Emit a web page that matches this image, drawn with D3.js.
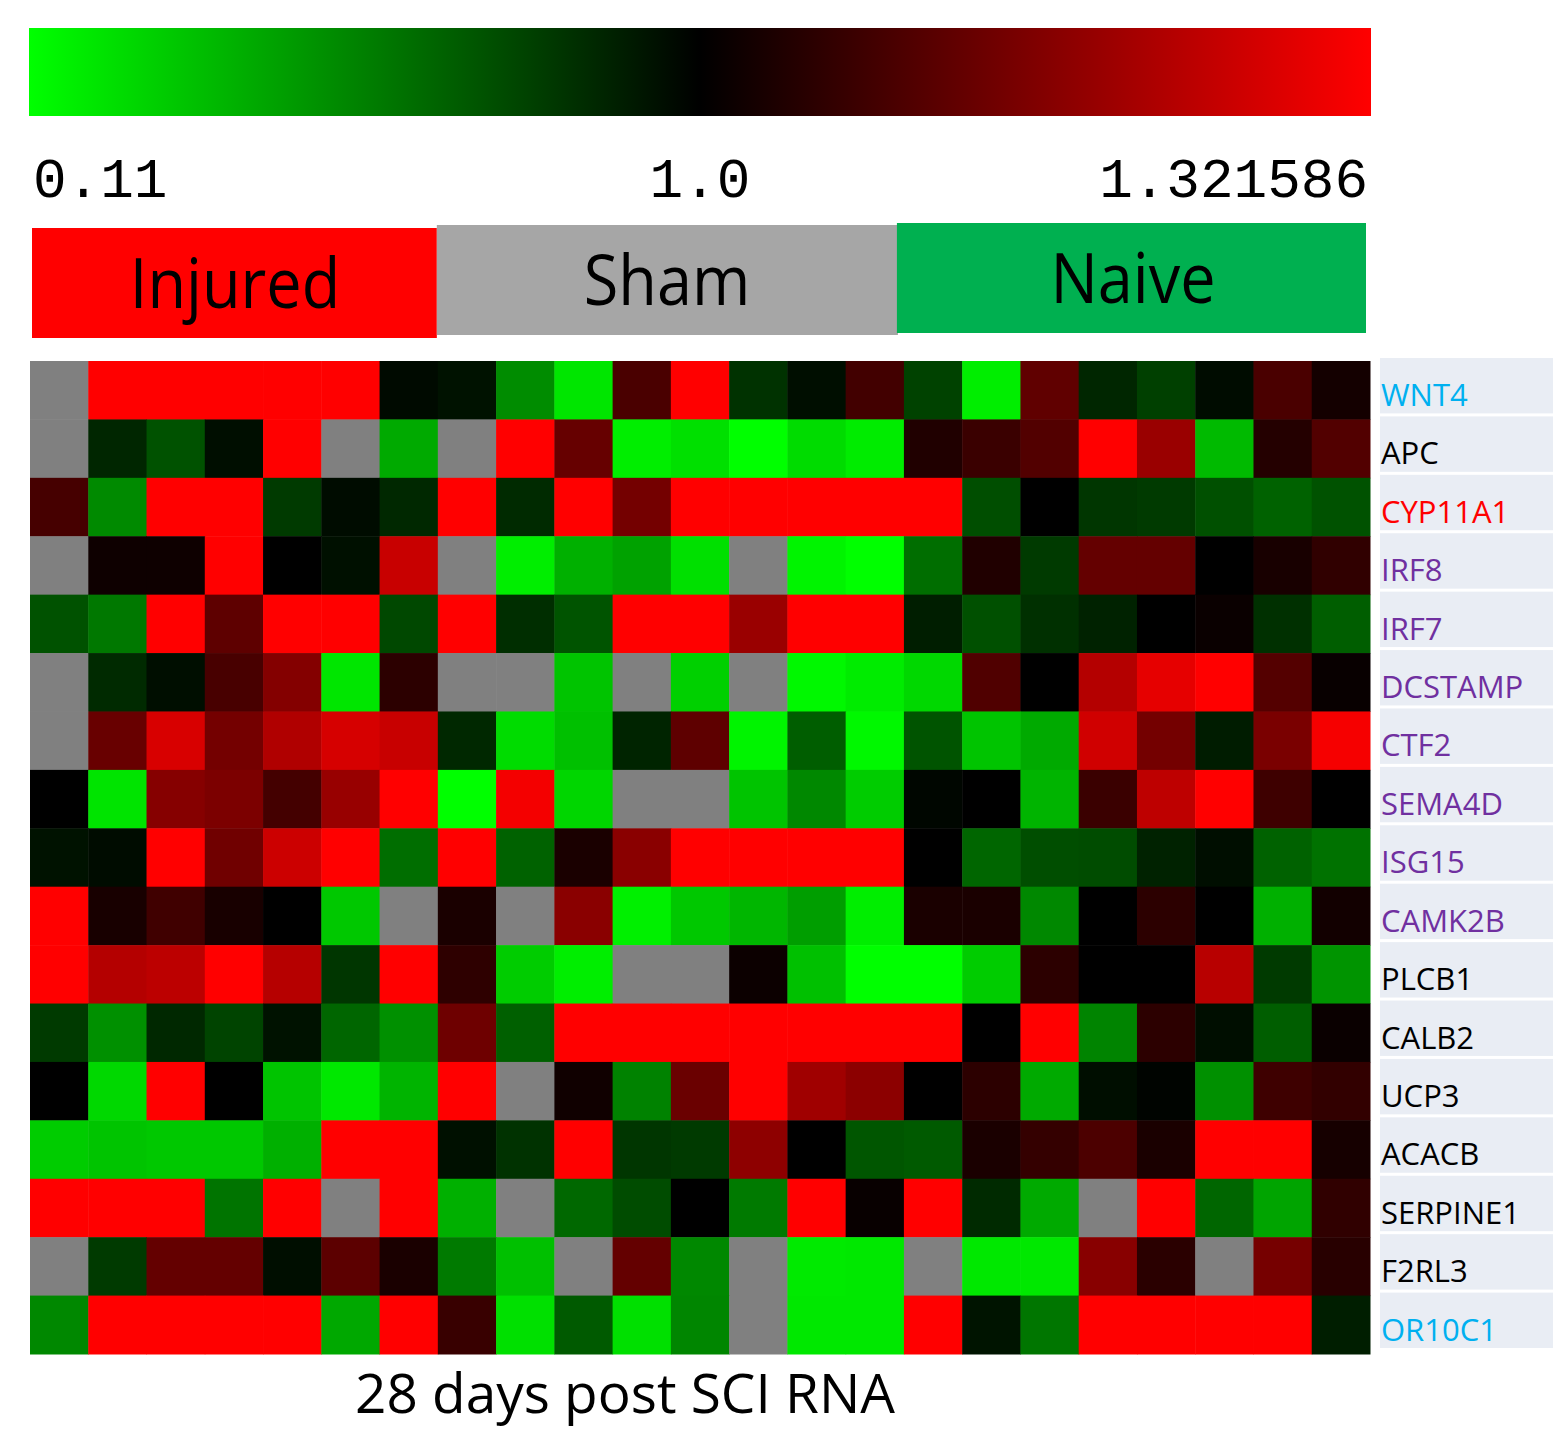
<!DOCTYPE html>
<html>
<head>
<meta charset="utf-8">
<script src="https://cdn.jsdelivr.net/npm/d3@7"></script>
<style>
  body { margin: 0; background: #fff; }
  svg { display: block; }
</style>
</head>
<body>
<div id="heatmap"></div>
<script>
var width = 1553;
var height = 1429;

// genes (rows), top to bottom
var genes = ["WNT4", "APC", "CYP11A1", "IRF8", "IRF7", "DCSTAMP", "CTF2", "SEMA4D", "ISG15",
             "CAMK2B", "PLCB1", "CALB2", "UCP3", "ACACB", "SERPINE1", "F2RL3", "OR10C1"];
var geneColors = ["#00b0f0", "#000000", "#ff0000", "#7030a0", "#7030a0", "#7030a0", "#7030a0", "#7030a0", "#7030a0",
                  "#7030a0", "#000000", "#000000", "#000000", "#000000", "#000000", "#000000", "#00b0f0"];

// sample groups and how many columns each one covers
var groups = ["Injured", "Sham", "Naive"];
var groupSizes = [7, 8, 8];
var groupColors = ["#ff0000", "#a6a6a6", "#00b050"];

// colour key
var keyValues = [0.11, 1.0, 1.321586];
var keyLabels = ["0.11", "1.0", "1.321586"];

// expression ratio per gene, 23 samples each, null = no value (grey)
var WNT4     = [null, 1.322, 1.322, 1.322, 1.322, 1.322, 0.965, 0.937, 0.511, 0.197, 1.093, 1.322, 0.826, 0.951, 1.083, 0.770, 0.169, 1.121, 0.867, 0.777, 0.958, 1.093, 1.025];
var APC      = [null, 0.867, 0.714, 0.951, 1.322, null, 0.407, null, 1.322, 1.129, 0.169, 0.218, 0.110, 0.232, 0.176, 1.040, 1.073, 1.103, 1.322, 1.194, 0.351, 1.045, 1.103];
var CYP11A1  = [1.088, 0.518, 1.322, 1.322, 0.798, 0.958, 0.860, 1.322, 0.853, 1.322, 1.146, 1.322, 1.322, 1.322, 1.322, 1.322, 0.728, 1.000, 0.812, 0.798, 0.721, 0.658, 0.714];
var IRF8     = [null, 1.018, 1.018, 1.322, 1.000, 0.944, 1.252, null, 0.169, 0.386, 0.435, 0.218, null, 0.148, 0.110, 0.616, 1.040, 0.798, 1.126, 1.126, 1.000, 1.030, 1.061];
var IRF7     = [0.714, 0.581, 1.322, 1.119, 1.322, 1.322, 0.749, 1.322, 0.839, 0.707, 1.322, 1.322, 1.194, 1.322, 1.322, 0.895, 0.721, 0.832, 0.881, 1.000, 1.013, 0.832, 0.672];
var DCSTAMP  = [null, 0.853, 0.951, 1.091, 1.166, 0.197, 1.055, null, null, 0.316, null, 0.274, null, 0.135, 0.176, 0.246, 1.101, 1.000, 1.227, 1.290, 1.322, 1.106, 1.010];
var CTF2     = [null, 1.131, 1.272, 1.146, 1.222, 1.270, 1.252, 0.860, 0.232, 0.330, 0.874, 1.119, 0.148, 0.672, 0.135, 0.707, 0.316, 0.407, 1.262, 1.146, 0.902, 1.154, 1.310];
var SEMA4D   = [1.000, 0.204, 1.169, 1.156, 1.086, 1.192, 1.322, 0.110, 1.308, 0.253, null, null, 0.316, 0.525, 0.288, 0.979, 1.000, 0.372, 1.073, 1.240, 1.322, 1.078, 1.000];
var ISG15    = [0.937, 0.958, 1.322, 1.141, 1.257, 1.322, 0.616, 1.322, 0.658, 1.033, 1.174, 1.322, 1.322, 1.322, 1.322, 1.000, 0.644, 0.728, 0.735, 0.881, 0.951, 0.658, 0.602];
var CAMK2B   = [1.322, 1.030, 1.081, 1.030, 1.000, 0.302, null, 1.033, null, 1.174, 0.162, 0.302, 0.365, 0.449, 0.169, 1.033, 1.033, 0.525, 1.000, 1.055, 1.000, 0.386, 1.023];
var PLCB1    = [1.322, 1.227, 1.237, 1.322, 1.230, 0.812, 1.322, 1.058, 0.288, 0.169, null, null, 1.015, 0.330, 0.110, 0.110, 0.288, 1.055, 1.000, 1.000, 1.232, 0.798, 0.483];
var CALB2    = [0.798, 0.497, 0.860, 0.763, 0.937, 0.644, 0.497, 1.139, 0.665, 1.322, 1.322, 1.322, 1.322, 1.322, 1.322, 1.322, 1.000, 1.322, 0.539, 1.055, 0.951, 0.672, 1.013];
var UCP3     = [1.000, 0.246, 1.322, 1.000, 0.316, 0.190, 0.372, 1.322, null, 1.020, 0.546, 1.134, 1.322, 1.202, 1.177, 1.000, 1.055, 0.407, 0.951, 0.986, 0.497, 1.078, 1.063];
var ACACB    = [0.288, 0.316, 0.302, 0.302, 0.386, 1.322, 1.322, 0.944, 0.826, 1.322, 0.812, 0.798, 1.179, 1.000, 0.700, 0.686, 1.033, 1.066, 1.096, 1.033, 1.322, 1.322, 1.028];
var SERPINE1 = [1.322, 1.322, 1.322, 0.595, 1.322, null, 1.322, 0.386, null, 0.637, 0.735, 1.000, 0.574, 1.322, 1.010, 1.322, 0.853, 0.407, null, 1.322, 0.644, 0.428, 1.061];
var F2RL3    = [null, 0.798, 1.126, 1.126, 0.951, 1.116, 1.033, 0.574, 0.330, null, 1.126, 0.525, null, 0.183, 0.190, null, 0.190, 0.190, 1.171, 1.053, null, 1.149, 1.050];
var OR10C1   = [0.525, 1.322, 1.322, 1.322, 1.322, 0.414, 1.322, 1.071, 0.218, 0.686, 0.218, 0.532, null, 0.190, 0.190, 1.322, 0.930, 0.588, 1.322, 1.322, 1.322, 1.322, 0.895];

var values = [WNT4, APC, CYP11A1, IRF8, IRF7, DCSTAMP, CTF2, SEMA4D, ISG15,
              CAMK2B, PLCB1, CALB2, UCP3, ACACB, SERPINE1, F2RL3, OR10C1];

var nSamples = WNT4.length;

var cells = [];
values.forEach(function(row, i) {
  row.forEach(function(v, j) {
    cells.push({gene: genes[i], sample: j, value: v});
  });
});

var svg = d3.select("#heatmap")
    .append("svg")
    .attr("width", width)
    .attr("height", height);

var x = d3.scaleBand()
    .domain(d3.range(nSamples))
    .range([30, 1370]);

var y = d3.scaleBand()
    .domain(genes)
    .range([361, 1354]);

var color = d3.scaleLinear()
    .domain(keyValues)
    .range(["#00ff00", "#000000", "#ff0000"])
    .clamp(true);

// position on the colour key
var keyX = d3.scaleLinear()
    .domain(keyValues)
    .range([29, 700, 1371]);

// colour key bar
var grad = svg.append("defs").append("linearGradient")
    .attr("id", "key-grad")
    .attr("x1", "0%").attr("x2", "100%")
    .attr("y1", "0%").attr("y2", "0%");

grad.selectAll("stop")
  .data(keyValues)
  .enter().append("stop")
    .attr("offset", function(d) { return (keyX(d) - keyX(keyValues[0])) / (keyX(keyValues[2]) - keyX(keyValues[0])); })
    .attr("stop-color", function(d) { return color(d); });

svg.append("rect")
    .attr("x", keyX(keyValues[0]))
    .attr("y", 28)
    .attr("width", keyX(keyValues[2]) - keyX(keyValues[0]))
    .attr("height", 88)
    .attr("fill", "url(#key-grad)");

svg.selectAll(".key-label")
  .data(keyValues)
  .enter().append("text")
    .attr("class", "key-label")
    .attr("x", function(d, i) { return keyX(d) + [4, 0, -3][i]; })
    .attr("y", 197)
    .attr("text-anchor", function(d, i) { return ["start", "middle", "end"][i]; })
    .style("font-family", "'Liberation Mono', 'DejaVu Sans Mono', monospace")
    .style("font-size", "56px")
    .style("fill", "#000")
    .text(function(d, i) { return keyLabels[i]; });

// group header boxes
var groupStart = [];
var acc = 0;
groupSizes.forEach(function(n) { groupStart.push(acc); acc += n; });
var groupTop = [228, 225, 223];
// small hand-placed nudges so the boxes sit like the original slide
var groupNudge = [[2, -1], [-1, -6], [-7, -4]];

var header = svg.selectAll(".group")
  .data(groups)
  .enter().append("g")
    .attr("class", "group");

header.append("rect")
    .attr("x", function(d, i) { return x(groupStart[i]) + groupNudge[i][0]; })
    .attr("y", function(d, i) { return groupTop[i]; })
    .attr("width", function(d, i) { return x.step() * groupSizes[i] - groupNudge[i][0] + groupNudge[i][1]; })
    .attr("height", 110)
    .attr("fill", function(d, i) { return groupColors[i]; });

header.append("text")
    .attr("transform", function(d, i) {
      var cx = [235, 667, 1133][i];
      return "translate(" + cx + "," + (groupTop[i] + 80) + ") scale(0.9,1)";
    })
    .attr("text-anchor", "middle")
    .style("font-family", "'Open Sans', sans-serif")
    .style("font-size", "70px")
    .style("fill", "#000")
    .text(function(d) { return d; });

// heatmap cells
svg.append("g")
  .selectAll("rect")
  .data(cells)
  .enter().append("rect")
    .attr("x", function(d) { return x(d.sample); })
    .attr("y", function(d) { return y(d.gene); })
    .attr("width", x.bandwidth() + 0.5)
    .attr("height", y.bandwidth() + 0.5)
    .attr("fill", function(d) { return d.value == null ? "#808080" : color(d.value); });

// gene labels on the right
var labels = svg.selectAll(".gene")
  .data(genes)
  .enter().append("g")
    .attr("class", "gene");

labels.append("rect")
    .attr("x", 1380)
    .attr("y", function(d) { return y(d) - 3; })
    .attr("width", 173)
    .attr("height", y.bandwidth() - 3)
    .attr("fill", "#e9edf4");

labels.append("text")
    .attr("x", 1381)
    .attr("y", function(d) { return y(d) + 45; })
    .style("font-family", "'Open Sans', sans-serif")
    .style("font-size", "31px")
    .style("fill", function(d, i) { return geneColors[i]; })
    .text(function(d) { return d; });

// title under the heatmap
svg.append("text")
    .attr("x", 625)
    .attr("y", 1413)
    .attr("text-anchor", "middle")
    .attr("textLength", 540)
    .attr("lengthAdjust", "spacingAndGlyphs")
    .style("font-family", "'Open Sans', sans-serif")
    .style("font-size", "55px")
    .style("fill", "#000")
    .text("28 days post SCI RNA");
</script>
</body>
</html>
